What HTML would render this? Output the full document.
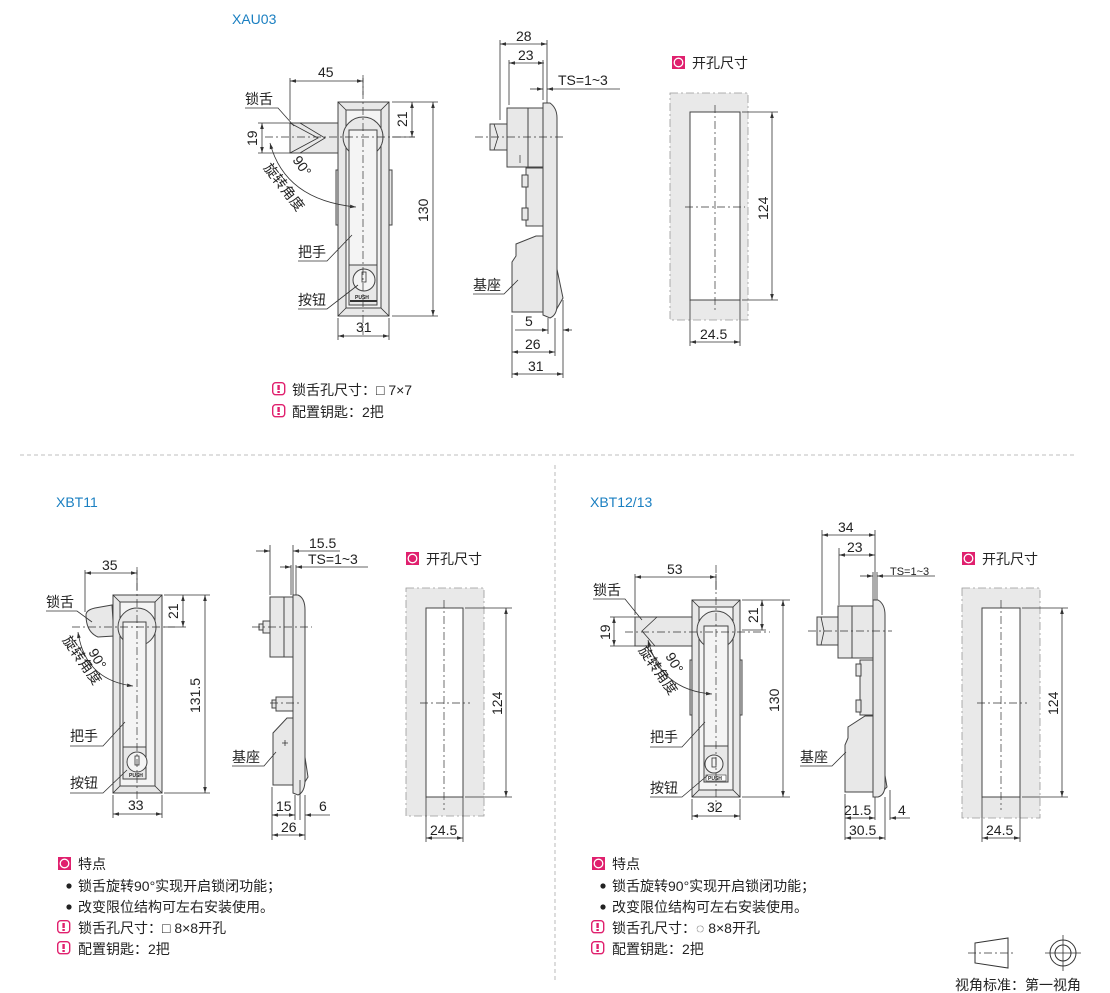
<!DOCTYPE html>
<html><head><meta charset="utf-8"><style>
html,body{margin:0;padding:0;background:#fff;}
svg{display:block;font-family:"Liberation Sans","Noto Sans CJK SC",sans-serif;}
.t{font-size:14px;fill:#222;}
.d{stroke:#333;stroke-width:0.8;fill:none;}
.da{stroke:#333;stroke-width:0.8;fill:none;marker-start:url(#a);marker-end:url(#a);}
.c{stroke:#333;stroke-width:0.7;fill:none;stroke-dasharray:8 3 2 3;}
.p{fill:#e8e8e8;stroke:#444;stroke-width:1;}
.w{fill:#f4f4f4;stroke:#444;stroke-width:1;}
.o{fill:#e9e9e9;stroke:#999;stroke-width:0.8;stroke-dasharray:8 3 2 3;}
.n{font-size:14px;fill:#222;}
</style></head><body>
<svg width="1110" height="993" viewBox="0 0 1110 993" xmlns="http://www.w3.org/2000/svg">
<defs>
<marker id="a" viewBox="0 0 10 10" refX="10" refY="5" markerWidth="8" markerHeight="6" orient="auto-start-reverse" markerUnits="userSpaceOnUse"><path d="M0,2 L10,5 L0,8 z" fill="#333"/></marker>
<g id="pk"><rect x="0" y="0" width="13" height="13" fill="#e0206e"/><circle cx="6.5" cy="6.5" r="4.3" fill="none" stroke="#fff" stroke-width="1.3"/></g>
<g id="ex"><rect x="0.7" y="0.7" width="12" height="12" rx="3" fill="#fff" stroke="#e0206e" stroke-width="1.4"/><rect x="5.4" y="3" width="2.4" height="5" fill="#e0206e"/><rect x="5.4" y="9" width="2.4" height="2" fill="#e0206e"/></g>
</defs>

<!-- ============ XAU03 ============ -->
<text x="232" y="24" font-size="14" fill="#1a7fc1">XAU03</text>
<!-- front -->
<rect x="290" y="123" width="48" height="30" class="p"/>
<path d="M290,123 L318,138 L290,153 M300,123 L325,138 L300,153" class="d"/>
<rect x="336" y="170" width="4" height="55" class="p"/>
<rect x="388" y="170" width="4" height="55" class="p"/>
<rect x="338" y="102" width="51" height="214" class="p"/>
<rect x="346" y="110" width="35" height="198" class="w"/>
<path d="M338,102 L346,110 M389,102 L381,110 M338,316 L346,308 M389,316 L381,308" class="d"/>
<circle cx="363" cy="137" r="20" class="p"/>
<rect x="349" y="130" width="28" height="135" class="w"/>
<rect x="349" y="265" width="28" height="40" class="p"/>
<circle cx="364" cy="280" r="11" class="w"/>
<rect x="362" y="272" width="4" height="10" class="d"/>
<text x="355" y="299" font-size="5" font-weight="bold" fill="#222">PUSH</text>
<path d="M350,301 H377" stroke="#333" stroke-width="2"/>
<path d="M363,75 V335 M265,137 H415" class="c"/>
<path d="M290,78 V120 M363,78 V95" class="d"/>
<path d="M290,81 H363" class="da"/>
<text x="318" y="77" class="t">45</text>
<path d="M392,102 H438 M392,137 H415" class="d"/>
<path d="M412,102 V137" class="da"/>
<text transform="translate(407,127) rotate(-90)" class="t">21</text>
<path d="M392,316 H438" class="d"/>
<path d="M433,102 V316" class="da"/>
<text transform="translate(428,222) rotate(-90)" class="t">130</text>
<path d="M338,318 V340 M389,318 V340" class="d"/>
<path d="M338,336 H389" class="da"/>
<text x="356" y="332" class="t">31</text>
<path d="M258,123 H290 M258,153 H290" class="d"/>
<path d="M262,123 V153" class="da"/>
<text transform="translate(257,146) rotate(-90)" class="t">19</text>
<text x="245" y="104" class="t">锁舌</text>
<path d="M245,108 H278 L294,126" class="d"/>
<path d="M270,143 Q285,200 356,207" class="d" marker-start="url(#a)" marker-end="url(#a)"/>
<text transform="translate(292,160) rotate(55)" class="t">90°</text>
<text transform="translate(263,168) rotate(52)" class="t">旋转角度</text>
<text x="298" y="257" class="t">把手</text>
<path d="M298,261 H327 L352,235" class="d"/>
<text x="298" y="305" class="t">按钮</text>
<path d="M298,309 H327 L358,285" class="d"/>

<!-- side -->
<rect x="490" y="124" width="17" height="26" class="p"/>
<path d="M494,124 L498,137 L494,150" class="d"/>
<rect x="507" y="108" width="36" height="59" class="p"/>
<rect x="528" y="108" width="15" height="59" class="p"/>
<rect x="526" y="168" width="17" height="58" class="p"/>
<rect x="522" y="175" width="6" height="12" class="p"/><rect x="522" y="208" width="6" height="12" class="p"/>
<path d="M512,312 L512,262 L516,256 L516,244 L536,236 L543,236 L543,312 Z" class="p"/>
<path d="M553,250 L563,298 L555,312 Z" class="p"/>
<path d="M543,103 L550,103 Q557,108 557,118 L557,305 Q557,315 550,318 L543,315 Z" class="p"/>
<path d="M475,137 H565 M520,155 V165" class="c"/>
<path d="M500,40 V120 M547,40 V103 M509,60 V105 M543,60 V100" class="d"/>
<path d="M500,44 H547" class="da"/>
<text x="516" y="41" class="t">28</text>
<path d="M509,63 H544" class="da"/>
<text x="518" y="60" class="t">23</text>
<path d="M530,89 H543" class="d" marker-end="url(#a)"/>
<path d="M547,89 H620" class="d" marker-start="url(#a)"/>
<text x="558" y="85" class="t">TS=1~3</text>
<path d="M512,315 V378 M555,318 V356 M563,300 V378 M548,318 V334" class="d"/>
<path d="M515,330 H548" class="d" marker-end="url(#a)"/>
<path d="M563,330 H572" class="d" marker-start="url(#a)"/>
<text x="525" y="326" class="t">5</text>
<path d="M512,352 H555" class="da"/>
<text x="525" y="349" class="t">26</text>
<path d="M512,374 H563" class="da"/>
<text x="528" y="371" class="t">31</text>
<text x="473" y="290" class="t">基座</text>
<path d="M473,294 H504 L518,280" class="d"/>

<!-- cutout -->
<use href="#pk" x="672" y="56"/>
<text x="692" y="68" class="t">开孔尺寸</text>
<rect x="670" y="93" width="78" height="227" class="o"/>
<rect x="690" y="112" width="50" height="188" fill="#fff" stroke="#444" stroke-width="1"/>
<path d="M715,105 V310 M685,207 H745" class="c"/>
<path d="M742,112 H778 M742,300 H778" class="d"/>
<path d="M772,112 V300" class="da"/>
<text transform="translate(768,220) rotate(-90)" class="t">124</text>
<path d="M690,300 V346 M740,300 V346" class="d"/>
<path d="M690,342 H740" class="da"/>
<text x="700" y="339" class="t">24.5</text>

<use href="#ex" x="272" y="382"/><text x="292" y="395" class="n">锁舌孔尺寸：□ 7×7</text>
<use href="#ex" x="272" y="404"/><text x="292" y="417" class="n">配置钥匙：2把</text>

<!-- separators -->
<path d="M20,455 H1075" stroke="#aaa" stroke-width="0.8" stroke-dasharray="4 3"/>
<path d="M555,465 V980" stroke="#aaa" stroke-width="0.8" stroke-dasharray="4 3"/>

<!-- ============ XBT11 ============ -->
<text x="56" y="507" font-size="14" fill="#1a7fc1">XBT11</text>
<path d="M86,615 Q86,610 95,608 L112,605 L114,636 L98,637 Q86,632 86,615 Z" class="p"/>
<rect x="113" y="595" width="49" height="198" class="p"/>
<rect x="120" y="602" width="35" height="184" class="w"/>
<path d="M113,595 L120,602 M162,595 L155,602 M113,793 L120,786 M162,793 L155,786" class="d"/>
<circle cx="137" cy="627" r="19" class="p"/>
<rect x="123" y="622" width="23" height="125" class="w"/>
<rect x="123" y="747" width="23" height="32" class="p"/>
<circle cx="137" cy="762" r="10" class="w"/>
<rect x="135" y="756" width="4" height="9" class="d"/>
<text x="129" y="777" font-size="5" font-weight="bold" fill="#222">PUSH</text>
<path d="M137,567 V808 M72,627 H175" class="c"/>
<path d="M85,570 V612 M137,570 V590" class="d"/>
<path d="M85,573 H137" class="da"/>
<text x="102" y="570" class="t">35</text>
<path d="M164,595 H210 M164,627 H186" class="d"/>
<path d="M183,595 V627" class="da"/>
<text transform="translate(178,619) rotate(-90)" class="t">21</text>
<path d="M164,793 H210" class="d"/>
<path d="M205,595 V793" class="da"/>
<text transform="translate(200,713) rotate(-90)" class="t">131.5</text>
<path d="M113,795 V818 M162,795 V818" class="d"/>
<path d="M113,814 H162" class="da"/>
<text x="128" y="810" class="t">33</text>
<text x="46" y="607" class="t">锁舌</text>
<path d="M46,611 H77 L92,622" class="d"/>
<path d="M78,632 Q85,680 133,686" class="d" marker-start="url(#a)" marker-end="url(#a)"/>
<text transform="translate(88,652) rotate(60)" class="t">90°</text>
<text transform="translate(62,640) rotate(55)" class="t">旋转角度</text>
<text x="70" y="741" class="t">把手</text>
<path d="M70,746 H103 L125,722" class="d"/>
<text x="70" y="788" class="t">按钮</text>
<path d="M70,793 H103 L127,770" class="d"/>
<!-- side -->
<rect x="270" y="597" width="23" height="60" class="p"/>
<rect x="284" y="597" width="9" height="60" class="p"/>
<rect x="263" y="621" width="7" height="12" class="p"/><rect x="259" y="624" width="4" height="6" class="p"/>
<rect x="276" y="697" width="17" height="14" class="p"/><rect x="272" y="700" width="4" height="8" class="p"/>
<path d="M273,785 L273,733 L287,718 L293,718 L293,785 Z" class="p"/>
<path d="M303,744 L308,777 L303,785 Z" class="p"/>
<path d="M293,595 L298,595 Q305,598 305,610 L305,780 Q305,792 298,795 L293,793 Z" class="p"/>
<path d="M282,743 h6 M285,740 v6" class="d"/>
<path d="M252,627 H312 M270,703 H300" class="c"/>
<path d="M270,545 V595 M293,545 V595 M291,565 V595 M296,565 V595" class="d"/>
<path d="M256,551 H270" class="d" marker-end="url(#a)"/>
<path d="M293,551 H340" class="d" marker-start="url(#a)"/>
<text x="309" y="548" class="t">15.5</text>
<path d="M280,567 H291" class="d" marker-end="url(#a)"/>
<path d="M296,567 H368" class="d" marker-start="url(#a)"/>
<text x="308" y="564" class="t">TS=1~3</text>
<path d="M272,787 V840 M295,795 V820 M305,795 V840 M300,780 V820" class="d"/>
<path d="M272,815 H295" class="da"/>
<text x="276" y="811" class="t">15</text>
<path d="M305,815 H330" class="d" marker-start="url(#a)"/>
<text x="319" y="811" class="t">6</text>
<path d="M272,835 H305" class="da"/>
<text x="281" y="832" class="t">26</text>
<text x="232" y="762" class="t">基座</text>
<path d="M232,766 H264 L276,752" class="d"/>
<!-- cutout -->
<use href="#pk" x="406" y="552"/>
<text x="426" y="564" class="t">开孔尺寸</text>
<rect x="406" y="588" width="78" height="228" class="o"/>
<rect x="426" y="608" width="37" height="189" fill="#fff" stroke="#444"/>
<path d="M444,600 V810 M420,703 H470" class="c"/>
<path d="M465,608 H512 M465,797 H512" class="d"/>
<path d="M506,608 V797" class="da"/>
<text transform="translate(502,715) rotate(-90)" class="t">124</text>
<path d="M426,797 V842 M463,797 V842" class="d"/>
<path d="M426,838 H463" class="da"/>
<text x="430" y="835" class="t">24.5</text>
<!-- notes -->
<use href="#pk" x="58" y="857"/><text x="78" y="869" class="n">特点</text>
<circle cx="69" cy="886" r="2.6" fill="#222"/><text x="78" y="891" class="n">锁舌旋转90°实现开启锁闭功能；</text>
<circle cx="69" cy="907" r="2.6" fill="#222"/><text x="78" y="912" class="n">改变限位结构可左右安装使用。</text>
<use href="#ex" x="57" y="920"/><text x="78" y="933" class="n">锁舌孔尺寸：□ 8×8开孔</text>
<use href="#ex" x="57" y="941"/><text x="78" y="954" class="n">配置钥匙：2把</text>

<!-- ============ XBT12/13 ============ -->
<text x="590" y="507" font-size="14" fill="#1a7fc1">XBT12/13</text>
<rect x="635" y="617" width="57" height="29" class="p"/>
<path d="M657,617 L642,631 L655,646" class="d"/>
<rect x="690" y="660" width="4" height="55" class="p"/>
<rect x="738" y="660" width="4" height="55" class="p"/>
<rect x="692" y="600" width="48" height="197" class="p"/>
<rect x="699" y="607" width="34" height="183" class="w"/>
<path d="M692,600 L699,607 M740,600 L733,607 M692,797 L699,790 M740,797 L733,790" class="d"/>
<circle cx="716" cy="630" r="19" class="p"/>
<rect x="704" y="626" width="24" height="120" class="w"/>
<rect x="704" y="746" width="24" height="36" class="p"/>
<circle cx="714" cy="764" r="9" class="w"/>
<rect x="712" y="758" width="4" height="9" class="d"/>
<rect x="706" y="775" width="20" height="6" fill="#fff" stroke="#333" stroke-width="0.6"/>
<text x="708" y="780" font-size="5" font-weight="bold" fill="#222">PUSH</text>
<path d="M716,565 V810 M625,632 H770" class="c"/>
<path d="M635,574 V615 M716,574 V590" class="d"/>
<path d="M635,577 H716" class="da"/>
<text x="667" y="574" class="t">53</text>
<path d="M742,600 H790 M742,630 H766" class="d"/>
<path d="M762,600 V630" class="da"/>
<text transform="translate(758,623) rotate(-90)" class="t">21</text>
<path d="M742,797 H790" class="d"/>
<path d="M783,600 V797" class="da"/>
<text transform="translate(779,712) rotate(-90)" class="t">130</text>
<path d="M692,799 V820 M740,799 V820" class="d"/>
<path d="M692,816 H740" class="da"/>
<text x="707" y="812" class="t">32</text>
<path d="M610,617 H635 M610,646 H635" class="d"/>
<path d="M614,617 V646" class="da"/>
<text transform="translate(610,640) rotate(-90)" class="t">19</text>
<text x="593" y="595" class="t">锁舌</text>
<path d="M593,599 H625 L642,620" class="d"/>
<path d="M648,640 Q660,690 712,694" class="d" marker-start="url(#a)" marker-end="url(#a)"/>
<text transform="translate(665,656) rotate(60)" class="t">90°</text>
<text transform="translate(638,650) rotate(55)" class="t">旋转角度</text>
<text x="650" y="742" class="t">把手</text>
<path d="M650,747 H682 L705,722" class="d"/>
<text x="650" y="793" class="t">按钮</text>
<path d="M650,797 H682 L708,775" class="d"/>
<!-- side -->
<rect x="817" y="617" width="21" height="28" class="p"/>
<path d="M821,617 L824,631 L821,645" class="d"/>
<rect x="838" y="606" width="35" height="52" class="p"/>
<rect x="852" y="606" width="21" height="52" class="p"/>
<rect x="860" y="660" width="13" height="55" class="p"/>
<rect x="856" y="664" width="5" height="12" class="p"/><rect x="856" y="700" width="5" height="12" class="p"/>
<path d="M845,792 L845,745 L848,738 L848,727 L865,716 L873,716 L873,792 Z" class="p"/>
<path d="M882,758 L887,787 L882,792 Z" class="p"/>
<path d="M873,600 L878,600 Q885,604 885,615 L885,785 Q885,795 878,797 L873,797 Z" class="p"/>
<path d="M808,631 H892" class="c"/>
<path d="M822,530 V615 M875,530 V600 M839,548 V605 M873,572 V600 M877,572 V600" class="d"/>
<path d="M822,535 H875" class="da"/>
<text x="838" y="532" class="t">34</text>
<path d="M839,555 H875" class="da"/>
<text x="847" y="552" class="t">23</text>
<path d="M860,576 H873" class="d" marker-end="url(#a)"/>
<path d="M877,576 H935" class="d" marker-start="url(#a)"/>
<text x="890" y="575" font-size="11" fill="#222">TS=1~3</text>
<path d="M845,794 V840 M875,797 V820 M885,797 V840 M890,790 V820" class="d"/>
<path d="M845,818 H875" class="da"/>
<text x="844" y="815" class="t">21.5</text>
<path d="M890,818 H910" class="d" marker-start="url(#a)"/>
<text x="898" y="815" class="t">4</text>
<path d="M845,838 H885" class="da"/>
<text x="849" y="835" class="t">30.5</text>
<text x="800" y="762" class="t">基座</text>
<path d="M800,766 H832 L846,752" class="d"/>
<!-- cutout -->
<use href="#pk" x="962" y="552"/>
<text x="982" y="564" class="t">开孔尺寸</text>
<rect x="962" y="588" width="78" height="230" class="o"/>
<rect x="982" y="608" width="38" height="189" fill="#fff" stroke="#444"/>
<path d="M1001,600 V810 M977,703 H1027" class="c"/>
<path d="M1022,608 H1068 M1022,797 H1068" class="d"/>
<path d="M1062,608 V797" class="da"/>
<text transform="translate(1058,715) rotate(-90)" class="t">124</text>
<path d="M982,797 V842 M1020,797 V842" class="d"/>
<path d="M982,838 H1020" class="da"/>
<text x="986" y="835" class="t">24.5</text>
<!-- notes -->
<use href="#pk" x="592" y="857"/><text x="612" y="869" class="n">特点</text>
<circle cx="603" cy="886" r="2.6" fill="#222"/><text x="612" y="891" class="n">锁舌旋转90°实现开启锁闭功能；</text>
<circle cx="603" cy="907" r="2.6" fill="#222"/><text x="612" y="912" class="n">改变限位结构可左右安装使用。</text>
<use href="#ex" x="591" y="920"/><text x="612" y="933" class="n">锁舌孔尺寸：◌ 8×8开孔</text>
<use href="#ex" x="591" y="941"/><text x="612" y="954" class="n">配置钥匙：2把</text>
<!-- view symbols -->
<path d="M975,943 L1008,938 L1008,968 L975,963 Z" fill="none" stroke="#333" stroke-width="1"/>
<path d="M968,953 H1015" class="c"/>
<circle cx="1063" cy="953" r="13" fill="none" stroke="#333"/>
<circle cx="1063" cy="953" r="8" fill="none" stroke="#333"/>
<path d="M1045,953 H1081 M1063,935 V971" stroke="#333" stroke-width="0.8"/>
<text x="955" y="990" class="t">视角标准：第一视角</text>
</svg>
</body></html>
